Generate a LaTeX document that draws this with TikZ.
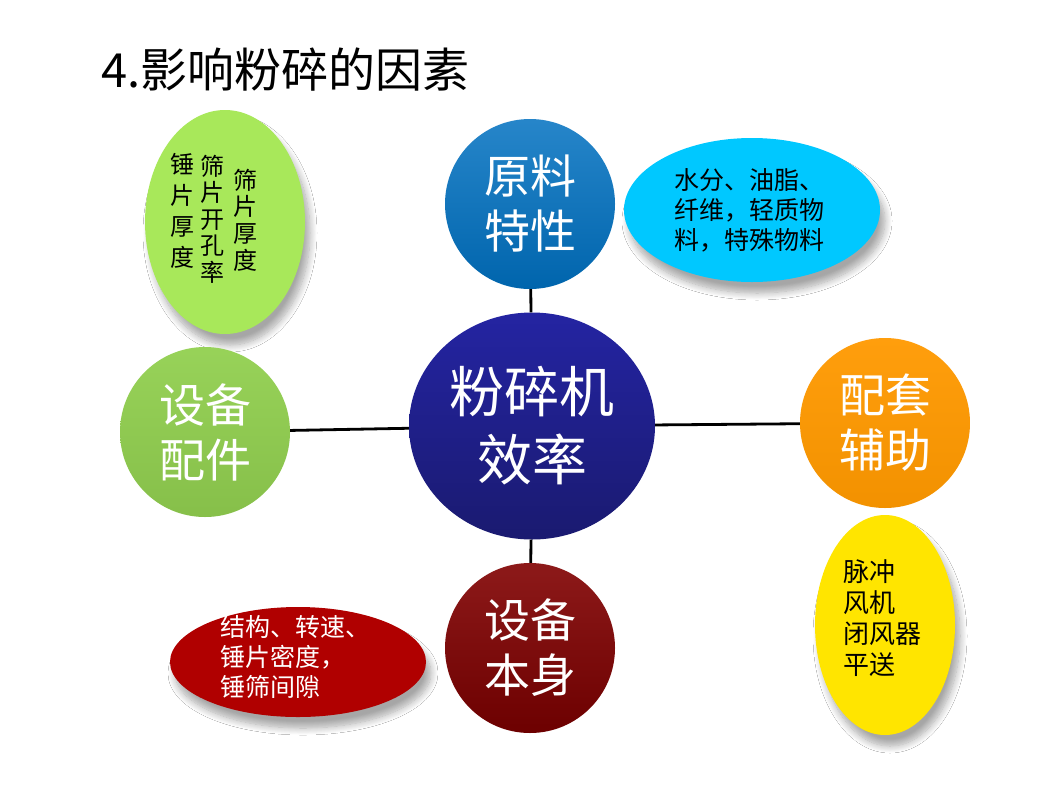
\documentclass[tikz,border=0pt]{standalone}
\usepackage{fontspec}
\newfontfamily\cjk{Noto Sans CJK SC}
\usetikzlibrary{shapes.geometric,shadows.blur}
\definecolor{cblue}{RGB}{0,112,192}
\definecolor{cgreen}{RGB}{146,208,80}
\definecolor{corange}{RGB}{255,153,0}
\definecolor{cdarkred}{RGB}{128,0,0}
\definecolor{clgreen}{RGB}{168,232,90}
\definecolor{ccyan}{RGB}{0,200,255}
\definecolor{cred}{RGB}{176,0,0}
\definecolor{cyellow}{RGB}{255,229,0}
\definecolor{chubtop}{RGB}{36,36,162}
\definecolor{chubbot}{RGB}{26,26,112}
\begin{document}
\begin{tikzpicture}[x=1pt,y=-1pt,
  hub/.style={ellipse, inner sep=0pt, align=center, text=white,
    minimum width=170pt, minimum height=170pt,
    font={\cjk\fontsize{46}{55}\selectfont}},
  bubble/.style={ellipse, inner sep=0pt, align=left, text=black,
    font={\cjk\fontsize{25}{30}\selectfont},
    blur shadow={shadow xshift=5pt, shadow yshift=-11pt, shadow blur radius=7pt, shadow blur steps=10, shadow opacity=35}},
  vcol/.style={align=center, inner sep=0pt, text=black},
  link/.style={line width=2.8pt, black}
]
\useasboundingbox (0,0) rectangle (1060,793);
\fill[white] (0,0) rectangle (1060,793);

% title
\node[anchor=west, inner sep=0pt, font={\cjk\fontsize{47}{54}\selectfont}] (title) at (101,70) {4.影响粉碎的因素};

% bubbles
\node[bubble, fill=clgreen, minimum width=160pt, minimum height=224pt] (gb) at (225,222) {};
\node[vcol, font={\cjk\fontsize{24}{31}\selectfont}] (gc1) at (182,211) {锤\\片\\厚\\度};
\node[vcol, font={\cjk\fontsize{24}{26.5}\selectfont}] (gc2) at (212,219) {筛\\片\\开\\孔\\率};
\node[vcol, font={\cjk\fontsize{24}{26.7}\selectfont}] (gc3) at (245,220) {筛\\片\\厚\\度};

\node[bubble, fill=ccyan, minimum width=256pt, minimum height=144pt] (cb) at (752,210) {};
\node[align=left, inner sep=0pt, font={\cjk\fontsize{25}{30}\selectfont}] (ct) at (749,210) {水分、油脂、\\纤维，轻质物\\料，特殊物料};

\node[bubble, fill=cred, minimum width=256pt, minimum height=110pt] (rb) at (298,662) {};
\node[align=left, inner sep=0pt, text=white, font={\cjk\fontsize{25}{30}\selectfont}] (rt) at (295,657) {结构、转速、\\锤片密度，\\锤筛间隙};

\node[bubble, fill=cyellow, minimum width=140pt, minimum height=220pt] (yb) at (885,625) {};
\node[align=left, inner sep=0pt, font={\cjk\fontsize{26}{31}\selectfont}] (yt) at (882,618) {脉冲\\风机\\闭风器\\平送};

% hubs
\node[hub, top color=chubtop, bottom color=chubbot, minimum width=246pt, minimum height=227pt,
  font={\cjk\fontsize{55}{68}\selectfont}] (c) at (532,426) {粉碎机\\效率};
\node[hub, top color=cblue!85!white, bottom color=cblue!90!black] (t) at (530,204) {原料\\特性};
\node[hub, top color=cgreen!95!white, bottom color=cgreen!92!black] (l) at (205,432) {设备\\配件};
\node[hub, top color=corange!95!white, bottom color=corange!95!black] (r) at (885,423) {配套\\辅助};
\node[hub, top color=cdarkred!90!white, bottom color=cdarkred!85!black] (b) at (530,648) {设备\\本身};

% links
\draw[link] (c) -- (t);
\draw[link] (c) -- (l);
\draw[link] (c) -- (r);
\draw[link] (c) -- (b);
\end{tikzpicture}
\end{document}
